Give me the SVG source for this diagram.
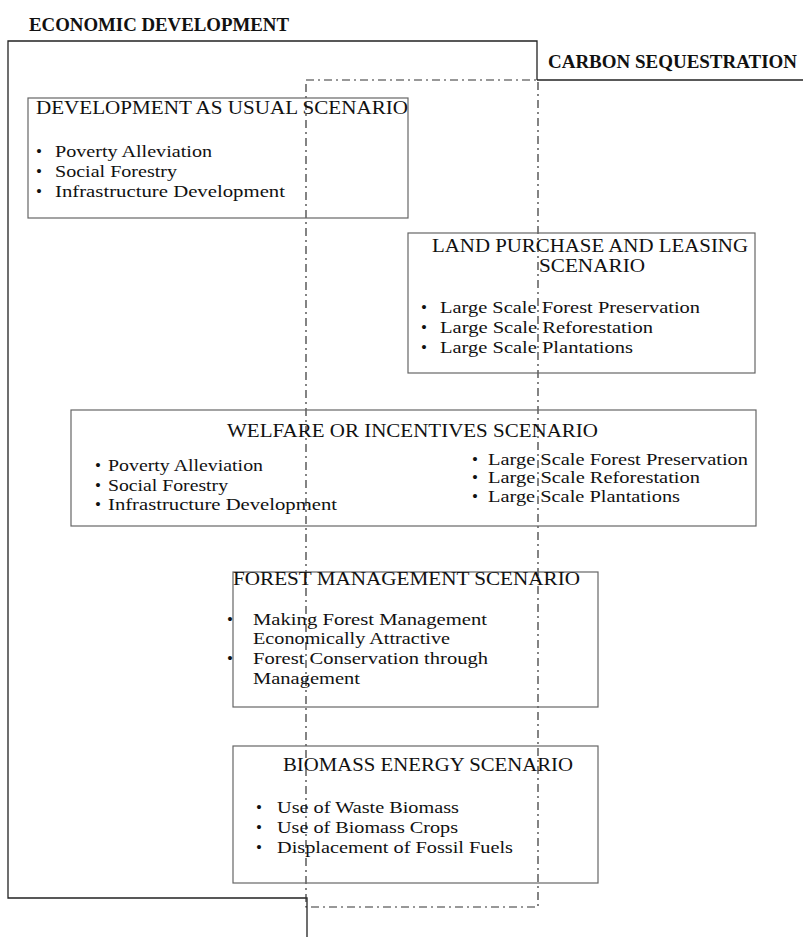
<svg xmlns="http://www.w3.org/2000/svg" width="803" height="941" viewBox="0 0 803 941">
<style>
  text { font-family: "Liberation Serif", "Times New Roman", serif; fill: #111; }
  .lbl { font-weight: bold; font-size: 19px; }
  .ttl { font-size: 18px; }
  .itm { font-size: 17px; }
  .box { fill: none; stroke: #666; stroke-width: 1.2; }
  .frame { fill: none; stroke: #222; stroke-width: 1.3; }
  .dd { fill: none; stroke: #333; stroke-width: 1.2; stroke-dasharray: 8 4 2 4; }
</style>
<rect width="803" height="941" fill="#fff"/>

<g id="frames">
  <polyline class="frame" points="537,80 537,41 8,41 8,898 307,898 307,937"/>
  <line class="frame" x1="537" y1="80" x2="803" y2="80"/>
  <rect class="dd" x="306" y="80" width="232" height="827"/>
  <text class="lbl" x="29" y="31" textLength="260" lengthAdjust="spacingAndGlyphs">ECONOMIC DEVELOPMENT</text>
  <text class="lbl" x="548" y="68" textLength="249" lengthAdjust="spacingAndGlyphs">CARBON SEQUESTRATION</text>
</g>

<g id="development-as-usual">
  <rect class="box" x="28" y="98" width="380" height="120"/>
  <text class="ttl" x="36" y="114" textLength="372" lengthAdjust="spacingAndGlyphs">DEVELOPMENT AS USUAL SCENARIO</text>
  <text class="itm" x="36" y="157">•</text>
  <text class="itm" x="55" y="157" textLength="157" lengthAdjust="spacingAndGlyphs">Poverty Alleviation</text>
  <text class="itm" x="36" y="177">•</text>
  <text class="itm" x="55" y="177" textLength="122" lengthAdjust="spacingAndGlyphs">Social Forestry</text>
  <text class="itm" x="36" y="197">•</text>
  <text class="itm" x="55" y="197" textLength="230" lengthAdjust="spacingAndGlyphs">Infrastructure Development</text>
</g>

<g id="land-purchase">
  <rect class="box" x="408" y="233" width="347" height="140"/>
  <text class="ttl" x="432" y="252" textLength="316" lengthAdjust="spacingAndGlyphs">LAND PURCHASE AND LEASING</text>
  <text class="ttl" x="539" y="272" textLength="106" lengthAdjust="spacingAndGlyphs">SCENARIO</text>
  <text class="itm" x="421" y="313">•</text>
  <text class="itm" x="440" y="313" textLength="260" lengthAdjust="spacingAndGlyphs">Large Scale Forest Preservation</text>
  <text class="itm" x="421" y="333">•</text>
  <text class="itm" x="440" y="333" textLength="213" lengthAdjust="spacingAndGlyphs">Large Scale Reforestation</text>
  <text class="itm" x="421" y="353">•</text>
  <text class="itm" x="440" y="353" textLength="193" lengthAdjust="spacingAndGlyphs">Large Scale Plantations</text>
</g>

<g id="welfare-incentives">
  <rect class="box" x="71" y="410" width="685" height="116"/>
  <text class="ttl" x="227" y="437" textLength="371" lengthAdjust="spacingAndGlyphs">WELFARE OR INCENTIVES SCENARIO</text>
  <text class="itm" x="95" y="471">•</text>
  <text class="itm" x="108" y="471" textLength="155" lengthAdjust="spacingAndGlyphs">Poverty Alleviation</text>
  <text class="itm" x="95" y="491">•</text>
  <text class="itm" x="108" y="491" textLength="120" lengthAdjust="spacingAndGlyphs">Social Forestry</text>
  <text class="itm" x="95" y="510">•</text>
  <text class="itm" x="108" y="510" textLength="229" lengthAdjust="spacingAndGlyphs">Infrastructure Development</text>
  <text class="itm" x="472" y="465">•</text>
  <text class="itm" x="488" y="465" textLength="260" lengthAdjust="spacingAndGlyphs">Large Scale Forest Preservation</text>
  <text class="itm" x="472" y="483">•</text>
  <text class="itm" x="488" y="483" textLength="212" lengthAdjust="spacingAndGlyphs">Large Scale Reforestation</text>
  <text class="itm" x="472" y="502">•</text>
  <text class="itm" x="488" y="502" textLength="192" lengthAdjust="spacingAndGlyphs">Large Scale Plantations</text>
</g>

<g id="forest-management">
  <rect class="box" x="233" y="572" width="365" height="135"/>
  <text class="ttl" x="233" y="585" textLength="347" lengthAdjust="spacingAndGlyphs">FOREST MANAGEMENT SCENARIO</text>
  <text class="itm" x="227" y="625">•</text>
  <text class="itm" x="253" y="625" textLength="234" lengthAdjust="spacingAndGlyphs">Making Forest Management</text>
  <text class="itm" x="253" y="644" textLength="197" lengthAdjust="spacingAndGlyphs">Economically Attractive</text>
  <text class="itm" x="227" y="664">•</text>
  <text class="itm" x="253" y="664" textLength="235" lengthAdjust="spacingAndGlyphs">Forest Conservation through</text>
  <text class="itm" x="253" y="684" textLength="107" lengthAdjust="spacingAndGlyphs">Management</text>
</g>

<g id="biomass-energy">
  <rect class="box" x="233" y="746" width="365" height="137"/>
  <text class="ttl" x="283" y="771" textLength="290" lengthAdjust="spacingAndGlyphs">BIOMASS ENERGY SCENARIO</text>
  <text class="itm" x="256" y="813">•</text>
  <text class="itm" x="277" y="813" textLength="182" lengthAdjust="spacingAndGlyphs">Use of Waste Biomass</text>
  <text class="itm" x="256" y="833">•</text>
  <text class="itm" x="277" y="833" textLength="181" lengthAdjust="spacingAndGlyphs">Use of Biomass Crops</text>
  <text class="itm" x="256" y="853">•</text>
  <text class="itm" x="277" y="853" textLength="236" lengthAdjust="spacingAndGlyphs">Displacement of Fossil Fuels</text>
</g>

<g id="connectors"></g>
</svg>
